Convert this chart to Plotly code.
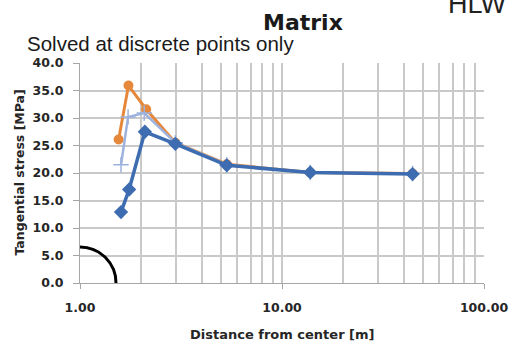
import plotly.graph_objects as go

# Tangential stress around the opening, three solutions
dist_orange = [1.553, 1.738, 2.126, 2.965, 5.33, 13.8, 44.3]
stress_orange = [26.1, 35.9, 31.6, 25.5, 21.6, 20.1, 19.9]

dist_light = [1.596, 1.73, 2.08, 2.965, 5.33, 13.8, 44.3]
stress_light = [21.5, 30.2, 30.9, 25.5, 21.5, 20.1, 19.9]

dist_dark = [1.596, 1.751, 2.095, 2.965, 5.33, 13.8, 44.3]
stress_dark = [12.9, 17.0, 27.5, 25.3, 21.4, 20.1, 19.8]

x_tickvals = [1, 10, 100]
x_ticktext = ["1.00", "10.00", "100.00"]
x_minor = [2, 3, 4, 5, 6, 7, 8, 9, 20, 30, 40, 50, 60, 70, 80, 90]
y_tickvals = [0, 5, 10, 15, 20, 25, 30, 35, 40]

ORANGE = "#E6883C"
LIGHT = "#9DB2DC"
DARK = "#3D6CB0"
GRID = "#C9C9C9"
TICKFONT = dict(family="DejaVu Sans", size=12.5, color="#262626", weight="bold")

fig = go.Figure()
fig.add_trace(go.Scatter(
    x=dist_orange, y=stress_orange, mode="lines+markers",
    line=dict(color=ORANGE, width=3),
    marker=dict(symbol="circle", size=10, color=ORANGE),
))
fig.add_trace(go.Scatter(
    x=dist_light, y=stress_light, mode="lines+markers",
    line=dict(color=LIGHT, width=2.5),
    marker=dict(symbol="cross-thin", size=11, line=dict(color=LIGHT, width=1.5)),
))
fig.add_trace(go.Scatter(
    x=dist_dark, y=stress_dark, mode="lines+markers",
    line=dict(color=DARK, width=3.5),
    marker=dict(symbol="diamond", size=11, color=DARK),
))

# quarter of the opening boundary drawn at the origin (pixel offsets, bezier arc)
R = 36
K = 0.5523 * R
fig.add_shape(
    type="path", xref="x", yref="y",
    xsizemode="pixel", ysizemode="pixel",
    xanchor=1, yanchor=0,
    path=f"M 0,{R} C {K},{R} {R},{K} {R},0",
    line=dict(color="black", width=3),
    layer="above",
)

fig.update_layout(
    width=520, height=349,
    margin=dict(l=80, r=29, t=63, b=66),
    paper_bgcolor="white", plot_bgcolor="white",
    showlegend=False,
    xaxis=dict(
        type="log", range=[0, 2],
        tickmode="array", tickvals=x_tickvals, ticktext=x_ticktext,
        ticks="outside", ticklen=5, tickcolor="#A6A6A6", tickwidth=1.2,
        ticklabelstandoff=8,
        showgrid=True, gridcolor=GRID, gridwidth=1.5,
        minor=dict(tickmode="array", tickvals=x_minor, showgrid=True,
                   gridcolor=GRID, gridwidth=1.5, ticks=""),
        showline=True, linecolor="#A6A6A6", linewidth=1.2,
        tickfont=TICKFONT, zeroline=False,
    ),
    yaxis=dict(
        range=[0, 40], tickmode="array", tickvals=y_tickvals,
        tickformat=".1f",
        ticks="outside", ticklen=6, tickcolor="#A6A6A6", tickwidth=1.2,
        ticklabelstandoff=7,
        showgrid=True, gridcolor=GRID, gridwidth=1.5,
        showline=True, linecolor="#A6A6A6", linewidth=1.2,
        tickfont=TICKFONT, zeroline=False,
    ),
)

annos = [
    dict(text="<b>Matrix</b>", x=307, y=23, size=22, family="DejaVu Sans",
         xanchor="center", yanchor="middle", color="#1a1a1a"),
    dict(text="Solved at discrete points only", x=25, y=43.5, size=20.5,
         family="Liberation Sans", xanchor="left", yanchor="middle", color="#1a1a1a"),
    dict(text="HLW", x=453, y=4, size=27, family="Liberation Sans",
         xanchor="left", yanchor="middle", color="#222222"),
    dict(text="<b>Distance from center [m]</b>", x=285.5, y=334, size=13,
         family="DejaVu Sans", xanchor="center", yanchor="middle", color="#262626"),
]
for a in annos:
    fig.add_annotation(
        text=a["text"], xref="paper", yref="paper",
        x=(a["x"] - 80) / 411, y=(283 - a["y"]) / 220,
        xanchor=a["xanchor"], yanchor=a["yanchor"], showarrow=False,
        borderpad=0,
        font=dict(family=a["family"], size=a["size"], color=a["color"]),
    )

fig.add_annotation(
    text="<b>Tangential stress [MPa]</b>", xref="paper", yref="paper",
    x=(17.5 - 80) / 411, y=0.5, textangle=-90,
    xanchor="center", yanchor="middle", showarrow=False,
    font=dict(family="DejaVu Sans", size=12.5, color="#262626"),
)

fig.write_html("out.html")
